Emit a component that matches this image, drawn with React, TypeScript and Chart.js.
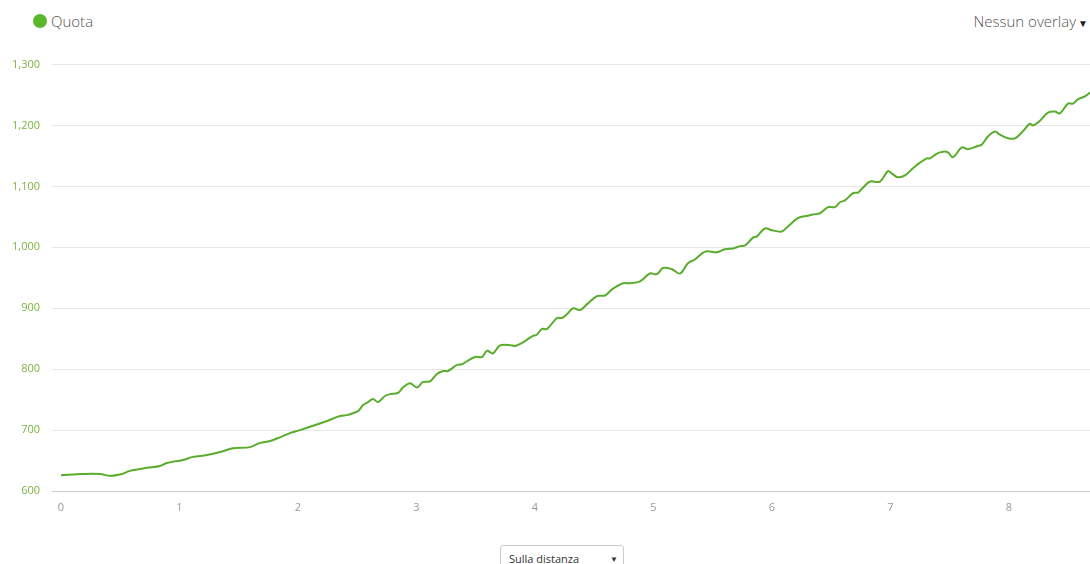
import React, { useEffect, useRef } from "react";
import { Chart, registerables } from "chart.js";

Chart.register(...registerables);

const X_KM = [
  0, 0.186, 0.329, 0.414, 0.515, 0.582, 0.726, 0.835, 0.895, 1.03, 1.114, 1.232, 1.342, 1.451, 1.595,
  1.679, 1.764, 1.831, 1.932, 2.017, 2.127, 2.245, 2.354, 2.422, 2.506, 2.549, 2.591, 2.633, 2.675,
  2.734, 2.776, 2.844, 2.886, 2.945, 3.004, 3.055, 3.114, 3.173, 3.224, 3.266, 3.342, 3.384, 3.426,
  3.494, 3.553, 3.595, 3.646, 3.705, 3.806, 3.831, 3.899, 3.975, 4.017, 4.059, 4.101, 4.186, 4.228,
  4.27, 4.321, 4.38, 4.447, 4.523, 4.591, 4.65, 4.743, 4.802, 4.886, 4.97, 5.03, 5.08, 5.156, 5.224,
  5.291, 5.35, 5.435, 5.536, 5.603, 5.671, 5.73, 5.772, 5.84, 5.873, 5.941, 6.0, 6.084, 6.127, 6.219,
  6.304, 6.346, 6.405, 6.473, 6.532, 6.574, 6.616, 6.684, 6.726, 6.768, 6.827, 6.911, 6.979, 7.013,
  7.063, 7.122, 7.19, 7.249, 7.308, 7.333, 7.392, 7.443, 7.485, 7.527, 7.603, 7.654, 7.73, 7.772,
  7.823, 7.882, 7.924, 7.992, 8.051, 8.11, 8.177, 8.203, 8.262, 8.329, 8.388, 8.43, 8.498, 8.54,
  8.582, 8.641, 8.684,
];

const ELEVATION = [
  626, 628, 628, 625, 628, 633, 638, 641, 646, 651, 656, 659, 664, 670, 672,
  679, 682, 687, 695, 700, 707, 715, 723, 725, 731, 741, 746, 751, 746,
  756, 759, 761, 770, 777, 770, 779, 780, 792, 797, 797, 807, 808, 813,
  820, 820, 830, 826, 839, 839, 838, 844, 854, 857, 866, 866, 884, 884,
  890, 900, 897, 908, 920, 921, 931, 941, 941, 944, 957, 956, 966, 964, 957,
  974, 980, 993, 992, 997, 998, 1002, 1003, 1016, 1018, 1031, 1028, 1026, 1033, 1048,
  1052, 1054, 1056, 1066, 1066, 1074, 1077, 1089, 1090, 1098, 1108, 1108, 1125, 1121,
  1115, 1118, 1130, 1139, 1146, 1146, 1154, 1157, 1156, 1148, 1164, 1161, 1166, 1169,
  1182, 1190, 1185, 1179, 1179, 1189, 1203, 1200, 1208, 1221, 1223, 1220, 1236, 1236,
  1243, 1248, 1254,
];

const X_TICKS = [0, 1, 2, 3, 4, 5, 6, 7, 8];
const Y_TICKS = [600, 700, 800, 900, 1000, 1100, 1200, 1300];

const LINE_COLOR = "#5aac2c";

export default function App() {
  const ref = useRef<HTMLCanvasElement>(null);

  useEffect(() => {
    Chart.defaults.font.family = "'Open Sans', sans-serif";
    const chart = new Chart(ref.current as HTMLCanvasElement, {
      type: "line",
      data: {
        datasets: [
          {
            label: "Quota",
            data: X_KM.map((x, i) => ({ x, y: ELEVATION[i] })),
            borderColor: LINE_COLOR,
            borderWidth: 2,
            pointRadius: 0,
            tension: 0.35,
            fill: false,
          },
        ],
      },
      options: {
        animation: false,
        responsive: false,
        maintainAspectRatio: false,
        layout: { padding: { top: 10, right: 0, left: 0, bottom: 0 } },
        plugins: { legend: { display: false }, tooltip: { enabled: false } },
        scales: {
          x: {
            type: "linear",
            min: -0.076,
            max: 8.684,
            afterBuildTicks: (s: any) => {
              s.ticks = X_TICKS.map((v) => ({ value: v }));
            },
            afterFit: (s: any) => {
              s.height = 30;
            },
            grid: { display: false, drawTicks: false },
            border: { display: true, color: "#cccccc", width: 1 },
            ticks: {
              color: "#999999",
              font: { size: 11 },
              padding: 10,
              maxRotation: 0,
              autoSkip: false,
            },
          },
          y: {
            type: "linear",
            min: 600,
            max: 1300,
            afterBuildTicks: (s: any) => {
              s.ticks = Y_TICKS.map((v) => ({ value: v }));
            },
            afterFit: (s: any) => {
              s.width = 52;
            },
            grid: {
              drawTicks: false,
              color: (ctx: any) => (ctx.tick && ctx.tick.value === 600 ? "#cccccc" : "#e6e6e6"),
            },
            border: { display: false },
            ticks: {
              color: "#7cb342",
              font: { size: 11 },
              padding: 12,
              callback: (v: any) => Number(v).toLocaleString("en-US"),
            },
          },
        },
      },
    });
    return () => chart.destroy();
  }, []);

  return (
    <div
      style={{
        position: "fixed",
        left: 0,
        top: 0,
        width: 1090,
        height: 564,
        background: "#fff",
        overflow: "hidden",
        fontFamily: "'Open Sans', sans-serif",
      }}
    >
      <div
        style={{
          position: "absolute",
          left: 33,
          top: 14,
          width: 14,
          height: 14,
          borderRadius: "50%",
          background: "#5cb82a",
        }}
      />
      <div
        style={{
          position: "absolute",
          left: 51,
          top: 10,
          fontSize: 15,
          fontWeight: 300,
          color: "#555",
          lineHeight: "22px",
        }}
      >
        Quota
      </div>
      <div
        style={{
          position: "absolute",
          right: 2,
          top: 10,
          fontSize: 15,
          fontWeight: 300,
          color: "#555",
          lineHeight: "22px",
          whiteSpace: "nowrap",
        }}
      >
        Nessun overlay
        <span style={{ fontSize: 10, color: "#222", marginLeft: 2 }}>▼</span>
      </div>
      <canvas
        ref={ref}
        width={1090}
        height={475}
        style={{ position: "absolute", left: 0, top: 46, display: "block" }}
      />
      <div
        style={{
          position: "absolute",
          left: 500,
          top: 545,
          width: 124,
          height: 28,
          border: "1px solid #cccccc",
          borderRadius: 3,
          boxSizing: "border-box",
          background: "#fff",
        }}
      >
        <span
          style={{
            position: "absolute",
            left: 8,
            top: 6,
            fontSize: 11,
            color: "#333",
            lineHeight: "14px",
          }}
        >
          Sulla distanza
        </span>
        <span
          style={{
            position: "absolute",
            right: 5,
            top: 6,
            fontSize: 8,
            color: "#333",
            lineHeight: "14px",
          }}
        >
          ▼
        </span>
      </div>
    </div>
  );
}
